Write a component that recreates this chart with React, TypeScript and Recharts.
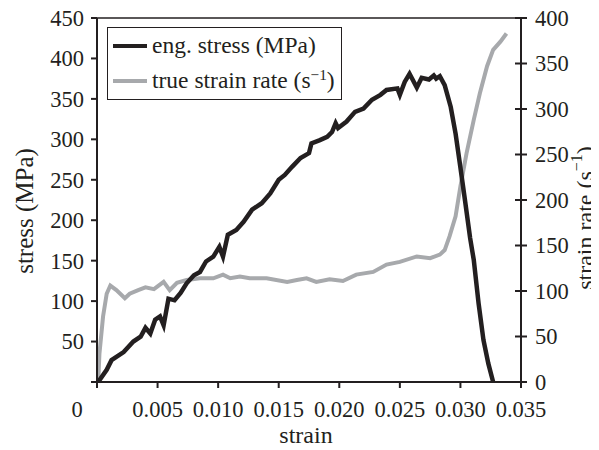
import { LineChart, Line, XAxis, YAxis, Legend, ReferenceLine } from 'recharts';

// engineering stress curve (left axis)
const stressStrain = [
  0.0001, 0.0008, 0.0012, 0.0016, 0.0022, 0.003, 0.0036, 0.004, 0.0044, 0.0048,
  0.0052, 0.0055, 0.0059, 0.0064, 0.0069, 0.0074, 0.008, 0.0085, 0.009, 0.0096,
  0.0101, 0.0104, 0.0108, 0.0115, 0.0121, 0.0128, 0.0136, 0.0143, 0.015, 0.0155,
  0.0161, 0.0168, 0.0175, 0.0177, 0.0184, 0.019, 0.0194, 0.0197, 0.0199, 0.0206,
  0.0213, 0.022, 0.0227, 0.0234, 0.0239, 0.0248, 0.025, 0.0254, 0.0258, 0.0264,
  0.0268, 0.0274, 0.0278, 0.028, 0.0283, 0.0287, 0.0292, 0.0296, 0.03, 0.0304,
  0.0308, 0.0311, 0.0315, 0.0319, 0.0323, 0.0327,
];
const stressValues = [
  0, 15, 27, 31, 37, 50, 56, 67, 60, 77,
  81, 70, 103, 101, 110, 122, 132, 136, 149, 155,
  167, 155, 182, 188, 198, 213, 221, 233, 250, 256,
  266, 277, 283, 295, 299, 303, 309, 320, 314, 322,
  334, 338, 349, 355, 361, 363, 355, 371, 381, 364,
  376, 374, 379, 375, 378, 367, 340, 307, 265, 222,
  178, 151, 97, 52, 23, 0,
];

// true strain rate curve (right axis)
const rateStrain = [
  0.0001, 0.0002, 0.0005, 0.0008, 0.0011, 0.0016, 0.0023, 0.0027, 0.0034, 0.004,
  0.0047, 0.0055, 0.006, 0.0066, 0.0074, 0.0085, 0.0096, 0.0104, 0.011, 0.0118,
  0.0126, 0.014, 0.0157, 0.0165, 0.0173, 0.0181, 0.0192, 0.0203, 0.0214, 0.0228,
  0.0239, 0.025, 0.0264, 0.0275, 0.0283, 0.0287, 0.0291, 0.0296, 0.03, 0.0305,
  0.0311, 0.0316, 0.0322, 0.0327, 0.0333, 0.0338,
];
const rateValues = [
  0, 31, 72, 97, 106, 101, 92, 97, 101, 104,
  102, 110, 101, 109, 112, 114, 114, 118, 114, 116,
  114, 114, 110, 112, 114, 110, 113, 111, 118, 121,
  129, 132, 138, 136, 140, 145, 160, 182, 215, 251,
  288, 317, 347, 365, 374, 383,
];

const strainTicks = [0, 0.005, 0.01, 0.015, 0.02, 0.025, 0.03, 0.035];
const stressTicks = [0, 50, 100, 150, 200, 250, 300, 350, 400, 450];
const rateTicks = [0, 50, 100, 150, 200, 250, 300, 350, 400];

const stressData = stressStrain.map((s, i) => ({ strain: s, stress: stressValues[i] }));
const rateData = rateStrain.map((s, i) => ({ strain: s, rate: rateValues[i] }));

const INK = '#231f20';
const GREY = '#a7a9ac';
const FONT = '"Liberation Serif", "Times New Roman", serif';

const XTick = (props: any) => {
  const { x, y, payload } = props;
  const v = payload.value as number;
  const label = v === 0 ? '0' : v.toFixed(3);
  return (
    <text x={v === 0 ? x - 20 : x} y={y} dy="0.71em" textAnchor="middle" fill={INK} fontSize={22.5} fontFamily={FONT}>
      {label}
    </text>
  );
};

const LeftTick = (props: any) => {
  const { x, y, payload } = props;
  if (payload.value === 0) return <g />;
  return (
    <text x={x} y={y} dy="0.35em" textAnchor="end" fill={INK} fontSize={22.5} fontFamily={FONT}>
      {payload.value}
    </text>
  );
};

// right axis ticks cross the axis line
const RightTick = (props: any) => {
  const { x, y, payload } = props;
  return (
    <g>
      <line x1={x - 20} x2={x - 8} y1={y} y2={y} stroke={INK} strokeWidth={2} />
      <text x={x} y={y} dy="0.35em" textAnchor="start" fill={INK} fontSize={22.5} fontFamily={FONT}>
        {payload.value}
      </text>
    </g>
  );
};

const LeftTitle = (props: any) => {
  const { viewBox } = props;
  const cx = 16;
  const cy = viewBox.y + viewBox.height / 2 + 11;
  return (
    <text x={cx} y={cy} transform={`rotate(-90 ${cx} ${cy})`} textAnchor="middle" dominantBaseline="central" fill={INK} fontSize={25} fontFamily={FONT}>
      stress (MPa)
    </text>
  );
};

const RightTitle = (props: any) => {
  const { viewBox } = props;
  const cx = viewBox.x + 64;
  const cy = viewBox.y + viewBox.height / 2 + 18;
  return (
    <text x={cx} y={cy} transform={`rotate(-90 ${cx} ${cy})`} textAnchor="middle" dominantBaseline="central" fill={INK} fontSize={24} fontFamily={FONT}>
      strain rate (s<tspan dy="-9" fontSize={16}>−1</tspan><tspan dy="9">)</tspan>
    </text>
  );
};

const BottomTitle = (props: any) => {
  const { viewBox } = props;
  return (
    <text x={viewBox.x + viewBox.width / 2 - 3} y={443} textAnchor="middle" fill={INK} fontSize={24} fontFamily={FONT}>
      strain
    </text>
  );
};

const renderLegend = () => (
  <div
    style={{
      border: `1.5px solid ${INK}`,
      background: '#fff',
      width: 235,
      boxSizing: 'border-box',
      padding: '0 0 1px 5px',
      fontFamily: FONT,
      fontSize: 23.5,
      lineHeight: '35px',
      color: INK,
      whiteSpace: 'nowrap',
    }}
  >
    <div style={{ display: 'flex', alignItems: 'center' }}>
      <span style={{ display: 'inline-block', width: 34, height: 4, background: INK, marginRight: 5 }} />
      <span>eng. stress (MPa)</span>
    </div>
    <div style={{ display: 'flex', alignItems: 'center' }}>
      <span style={{ display: 'inline-block', width: 34, height: 4, background: GREY, marginRight: 5 }} />
      <span>
        true strain rate (s<sup style={{ fontSize: '0.65em', verticalAlign: '0.55em', lineHeight: 0 }}>−1</sup>)
      </span>
    </div>
  </div>
);

export default function App() {
  return (
    <div style={{ width: 591, height: 450, marginTop: -8, fontFamily: FONT }}>
      <LineChart width={591} height={450} margin={{ top: 18, right: 0, bottom: 0, left: 0 }}>
        <XAxis
          xAxisId="x"
          dataKey="strain"
          type="number"
          domain={[0, 0.035]}
          ticks={strainTicks}
          allowDataOverflow
          height={68}
          tickSize={6}
          tickMargin={13}
          tick={<XTick />}
          stroke={INK}
          axisLine={{ stroke: INK, strokeWidth: 2 }}
          tickLine={{ stroke: INK, strokeWidth: 2 }}
          label={<BottomTitle />}
        />
        <YAxis
          yAxisId="left"
          domain={[0, 450]}
          ticks={stressTicks}
          width={89}
          tickSize={6}
          tickMargin={7}
          tick={<LeftTick />}
          axisLine={{ stroke: INK, strokeWidth: 2 }}
          tickLine={{ stroke: INK, strokeWidth: 2 }}
          label={<LeftTitle />}
        />
        <YAxis
          yAxisId="right"
          orientation="right"
          domain={[0, 400]}
          ticks={rateTicks}
          width={78}
          tickSize={6}
          tickMargin={8}
          tick={<RightTick />}
          axisLine={{ stroke: INK, strokeWidth: 2 }}
          tickLine={false}
          label={<RightTitle />}
        />
        <ReferenceLine xAxisId="x" yAxisId="left" y={450} stroke={INK} strokeWidth={1.5} />
        <Legend
          layout="vertical"
          align="center"
          verticalAlign="middle"
          content={renderLegend}
          wrapperStyle={{ left: 99, top: 27, width: 235 }}
        />
        <Line
          data={rateData}
          xAxisId="x"
          yAxisId="right"
          dataKey="rate"
          type="linear"
          stroke={GREY}
          strokeWidth={4}
          dot={false}
          isAnimationActive={false}
        />
        <Line
          data={stressData}
          xAxisId="x"
          yAxisId="left"
          dataKey="stress"
          type="linear"
          stroke={INK}
          strokeWidth={4.5}
          dot={false}
          isAnimationActive={false}
        />
      </LineChart>
    </div>
  );
}
